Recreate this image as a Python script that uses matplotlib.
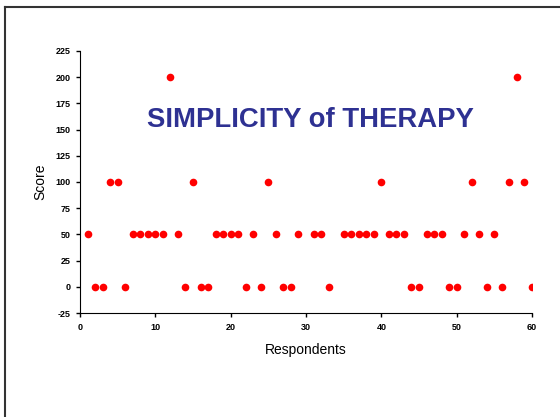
import matplotlib
matplotlib.use("Agg")
import matplotlib.pyplot as plt

# respondent number and score (30 and 34 had no answer)
respondents = [1, 2, 3, 4, 5, 6, 7, 8, 9, 10, 11, 12, 13, 14, 15, 16, 17, 18, 19, 20,
               21, 22, 23, 24, 25, 26, 27, 28, 29, 31, 32, 33, 35, 36, 37, 38, 39, 40,
               41, 42, 43, 44, 45, 46, 47, 48, 49, 50, 51, 52, 53, 54, 55, 56, 57, 58, 59, 60]
scores = [50, 0, 0, 100, 100, 0, 50, 50, 50, 50, 50, 200, 50, 0, 100, 0, 0, 50, 50, 50,
          50, 0, 50, 0, 100, 50, 0, 0, 50, 50, 50, 0, 50, 50, 50, 50, 50, 100,
          50, 50, 50, 0, 0, 50, 50, 50, 0, 0, 50, 100, 50, 0, 50, 0, 100, 200, 100, 0]

x_ticks = [0, 10, 20, 30, 40, 50, 60]
y_ticks = [-25, 0, 25, 50, 75, 100, 125, 150, 175, 200, 225]

plt.rcParams['font.family'] = ['Liberation Sans', 'DejaVu Sans']
plt.rcParams['axes.unicode_minus'] = False

fig = plt.figure(figsize=(5.6, 4.17), dpi=100)
ax = fig.add_axes([0.1429, 0.2494, 0.8071, 0.6283])

ax.plot(respondents, scores, 'o', color='#ff0000', markersize=5.5, markeredgewidth=0)

ax.set_xlim(0, 60)
ax.set_ylim(-25, 225)
ax.set_xticks(x_ticks)
ax.set_yticks(y_ticks)
ax.tick_params(direction='out', length=3, width=1, labelsize=6.5, pad=4)
for lab in ax.get_xticklabels() + ax.get_yticklabels():
    lab.set_fontweight('bold')
ax.spines['top'].set_visible(False)
ax.spines['right'].set_visible(False)
ax.set_xlabel('Respondents', fontsize=10, labelpad=8)
ax.set_ylabel('Score', fontsize=10, labelpad=6)

ax.text(0.509, 0.735, 'SIMPLICITY of THERAPY', transform=ax.transAxes,
        ha='center', va='center', fontsize=19.8, fontweight='bold', color='#2e3192')

# frame lines along the top and left of the slide
fig.add_artist(plt.Line2D([0.009, 1.0], [0.984, 0.984], transform=fig.transFigure,
                          color='#333333', linewidth=1.5))
fig.add_artist(plt.Line2D([0.009, 0.009], [0.0, 0.984], transform=fig.transFigure,
                          color='#333333', linewidth=1.5))

fig.savefig('out.png', dpi=100, facecolor='white')
